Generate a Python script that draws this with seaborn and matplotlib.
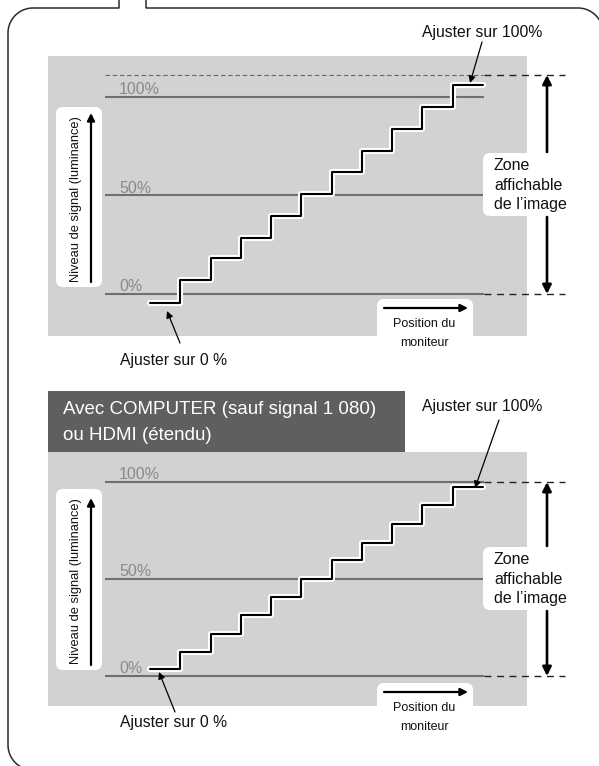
import numpy as np
import seaborn as sns
import matplotlib.pyplot as plt
import matplotlib.patheffects as pe
from matplotlib import font_manager
from matplotlib.patches import FancyBboxPatch, Rectangle
import pandas as pd

sns.set_theme(style='white')
plt.rcParams['font.family'] = ['Liberation Sans', 'DejaVu Sans']

# police etroite pour les petits libelles, si elle est installee
polices = {f.name for f in font_manager.fontManager.ttflist}
if 'Liberation Sans Narrow' in polices:
    ETROITE, F_NIV, F_POS = ['Liberation Sans Narrow', 'DejaVu Sans'], 11.2, 10.8
else:
    ETROITE, F_NIV, F_POS = ['Liberation Sans', 'DejaVu Sans'], 9.3, 9.0

marches = list(range(12))
niveaux_haut = [-4.6, 7.1, 18.3, 28.4, 39.6, 50.8, 61.9, 72.6, 83.8, 94.9, 106.1]
niveaux_bas = [3.6, 12.4, 21.6, 31.4, 40.7, 50.0, 59.8, 68.6, 78.4, 88.1, 97.4]
reperes = [0, 50, 100]
etiquettes_reperes = ['0%', '50%', '100%']
zone_haut = [0, 111.2]
zone_bas = [0, 100]

GRIS = '#d1d2d4'
W, H = 599, 766
PAS = 30.27  # px par marche
fig = plt.figure(figsize=(W / 100, H / 100), dpi=100)


def panneau(y0, y1, ypx0, ypx100, niveaux, zone):
    # axe de donnees pose sur la zone grise
    ax = fig.add_axes([48 / W, 1 - y1 / H, 479 / W, (y1 - y0) / H])
    ech = (ypx0 - ypx100) / 100
    ax.set_xlim((48 - 150) / PAS, (527 - 150) / PAS)
    ax.set_ylim((ypx0 - y1) / ech, (ypx0 - y0) / ech)
    ax.set_facecolor(GRIS)
    for s in ax.spines.values():
        s.set_visible(False)
    ax.set_xticks([])
    ax.set_yticks([])

    ax.hlines(reperes, -1.49, 11.03, color='#6f6f6f', lw=1.5, zorder=1)
    for r, t in zip(reperes, etiquettes_reperes):
        ax.text(-1.02, r + 1.3, t, color='#8a8a8a', fontsize=11.5, va='baseline')
    if zone[1] > 100:
        ax.hlines(zone[1], -1.49, 11.0, color='#666666', lw=0.8,
                  linestyles=(0, (4, 2.5)))
    ax.hlines(zone, 11.03, 13.72, clip_on=False, color='#222222', lw=1.0,
              linestyles=(0, (5, 4)))

    df = pd.DataFrame({'x': marches, 'y': niveaux + [niveaux[-1]]})
    sns.lineplot(data=df, x='x', y='y', ax=ax, estimator=None, color='black',
                 lw=1.5, drawstyle='steps-post', zorder=3,
                 path_effects=[pe.Stroke(linewidth=4.4, foreground='white'), pe.Normal()])
    ax.set_xlabel('')
    ax.set_ylabel('')
    return ax


panneau(56, 336, 294, 97, niveaux_haut, zone_haut)
panneau(452, 706, 676, 482, niveaux_bas, zone_bas)

# calque en pixels pour le cadre, les encadres et les textes
ov = fig.add_axes([0, 0, 1, 1])
ov.set_xlim(0, W)
ov.set_ylim(H, 0)
ov.axis('off')

# cadre arrondi avec l'encoche du haut
R = 25
t = np.linspace(0, np.pi / 2, 30)
cadre_g_x = np.r_[119, 119, 8 + R - R * np.sin(t), 8 + R - R * np.cos(t)]
cadre_g_y = np.r_[0, 8, 8 + R - R * np.cos(t), 770 - R + R * np.sin(t)]
cadre_d_x = np.r_[146, 146, 603 - R + R * np.sin(t), 603]
cadre_d_y = np.r_[0, 8, 8 + R - R * np.cos(t), 790]
ov.plot(cadre_g_x, cadre_g_y, color='#2b2b2b', lw=1.1, clip_on=False)
ov.plot(cadre_d_x, cadre_d_y, color='#2b2b2b', lw=1.1, clip_on=False)

# bandeau du second schema
ov.add_patch(Rectangle((48, 391), 357, 61, fc='#5f5f5f', ec='none'))
ov.text(63, 410, 'Avec COMPUTER (sauf signal 1 080)', color='white', fontsize=13.5, va='center')
ov.text(63, 435, 'ou HDMI (étendu)', color='white', fontsize=13.5, va='center')


def fleche(x0, y0, x1, y1, lw=0.9, ms=10):
    ov.annotate('', xy=(x1, y1), xytext=(x0, y0),
                arrowprops=dict(arrowstyle='-|>', color='black', lw=lw,
                                mutation_scale=ms, shrinkA=0, shrinkB=0))


def encadre(x, y, w, h):
    ov.add_patch(FancyBboxPatch((x, y), w, h, boxstyle='round,pad=0,rounding_size=7',
                                fc='white', ec='none'))


for (by0, by1, ay0, ay1, zy, dy0, dy1, px_y) in [
        (107, 287, 282, 113, 153, 75, 294, 299),
        (489, 670, 665, 498, 547, 482, 676, 683)]:
    # axe vertical "Niveau de signal"
    encadre(56, by0, 46, by1 - by0)
    ov.text(76, (by0 + by1) / 2 + 2, 'Niveau de signal (luminance)', rotation=90,
            family=ETROITE, fontsize=F_NIV, ha='center', va='center', color='#111111')
    fleche(91, ay0, 91, ay1, lw=1.6, ms=11)

    # zone affichable
    encadre(483, zy, 87, 63)
    for k, txt in enumerate(['Zone', 'affichable', 'de l’image']):
        ov.text(494, zy + 13 + 19 * k, txt, fontsize=11.5, va='center', color='#111111')
    fleche(547, zy - 1, 547, dy0, lw=1.9, ms=13)
    fleche(547, zy + 64, 547, dy1, lw=1.9, ms=13)

    # position du moniteur
    encadre(377, px_y, 96, 60)
    fleche(384, px_y + 9, 468, px_y + 9, lw=1.6, ms=11)
    ov.text(424, px_y + 25, 'Position du', family=ETROITE, fontsize=F_POS,
            ha='center', va='center', color='#111111')
    ov.text(424, px_y + 44, 'moniteur', family=ETROITE, fontsize=F_POS,
            ha='center', va='center', color='#111111')

# annotations de reglage
ov.text(482, 32, 'Ajuster sur 100%', fontsize=11.3, ha='center', va='center', color='#111111')
fleche(482, 42, 470, 83)
ov.text(173, 360, 'Ajuster sur 0 %', fontsize=11.3, ha='center', va='center', color='#111111')
fleche(180, 343, 167, 311)
ov.text(482, 406, 'Ajuster sur 100%', fontsize=11.3, ha='center', va='center', color='#111111')
fleche(499, 420, 475, 488)
ov.text(173, 722, 'Ajuster sur 0 %', fontsize=11.3, ha='center', va='center', color='#111111')
fleche(175, 712, 159, 672)

fig.savefig('out.png', dpi=100)
